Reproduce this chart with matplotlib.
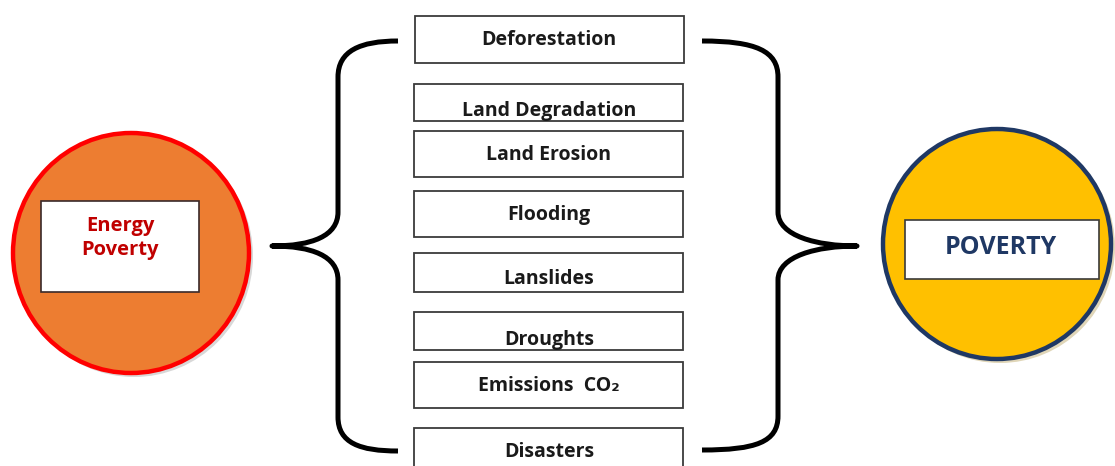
import matplotlib
matplotlib.use("Agg")
import matplotlib.pyplot as plt
from matplotlib.patches import Rectangle, Ellipse, PathPatch
from matplotlib.path import Path

# labels of the middle column, top to bottom
labels = ["Deforestation", "Land Degradation", "Land Erosion", "Flooding",
          "Lanslides", "Droughts", "Emissions  CO\u2082", "Disasters"]
left_label = "Energy\nPoverty"
right_label = "POVERTY"

# box geometry in pixels (top, bottom, text centre)
box_top = [16, 84, 131, 191, 253, 312, 362, 428]
box_bot = [63, 121, 177, 237, 292, 350, 408, 480]
text_y = [40, 111, 155, 215, 279, 340, 386, 452]

W, H = 1115, 466
fig = plt.figure(figsize=(W / 100, H / 100), dpi=100)
ax = fig.add_axes([0, 0, 1, 1])
ax.set_xlim(0, W)
ax.set_ylim(H, 0)
ax.axis("off")

font = ["Open Sans", "DejaVu Sans"]

# middle boxes
for lab, t, b, ty in zip(labels, box_top, box_bot, text_y):
    x0 = 414 if t > 70 else 415
    rect = Rectangle((x0, t), 269, b - t, facecolor="white", edgecolor="#3a3a3a", lw=1.3, zorder=2)
    ax.add_patch(rect)
    txt = ax.text(549, ty, lab, ha="center", va="center", fontsize=14, fontweight="bold",
                  family=font, color="#1a1a1a", zorder=3)
    txt.set_clip_path(rect)

# left circle
ax.add_patch(Ellipse((134, 256), 238, 242, facecolor="#d8d8d8", edgecolor="none", zorder=1))
ax.add_patch(Ellipse((131, 253), 236, 240, facecolor="#ED7D31", edgecolor="#FF0000", lw=3.2, zorder=2))
ax.add_patch(Rectangle((41, 201), 158, 91, facecolor="white", edgecolor="#3a2a2a", lw=1.2, zorder=3))
ax.text(120, 238, left_label, ha="center", va="center", fontsize=14.5, fontweight="bold",
        family=font, color="#C00000", linespacing=1.3, zorder=4)

# right circle
ax.add_patch(Ellipse((1000, 247), 230, 232, facecolor="#e0d6b8", edgecolor="none", zorder=1))
ax.add_patch(Ellipse((997, 244), 228, 230, facecolor="#FFC000", edgecolor="#1F3864", lw=3.2, zorder=2))
ax.add_patch(Rectangle((905, 220), 194, 59, facecolor="white", edgecolor="#3a3a3a", lw=1.2, zorder=3))
ax.text(1001, 248, right_label, ha="center", va="center", fontsize=18, fontweight="bold",
        family=font, color="#1F3864", zorder=4)

# braces
def brace(arm, vert, point, top, bot, mid):
    d = 1 if point > vert else -1
    verts = [(arm, top), (vert - d * 22, top), (vert, top + 10), (vert, top + 36),
             (vert, mid - 34),
             (vert, mid - 10), (point - d * 40, mid), (point, mid),
             (point - d * 40, mid), (vert, mid + 10), (vert, mid + 34),
             (vert, bot - 34),
             (vert, bot - 8), (vert - d * 22, bot), (arm, bot)]
    codes = [Path.MOVETO, Path.CURVE4, Path.CURVE4, Path.CURVE4, Path.LINETO,
             Path.CURVE4, Path.CURVE4, Path.CURVE4, Path.CURVE4, Path.CURVE4, Path.CURVE4,
             Path.LINETO, Path.CURVE4, Path.CURVE4, Path.CURVE4]
    p = PathPatch(Path(verts, codes), facecolor="none", edgecolor="black", lw=3.6,
                  capstyle="butt", joinstyle="round", zorder=2)
    ax.add_patch(p)

brace(398, 338, 272, 41, 451, 246)
brace(702, 778, 857, 41, 450, 246)

fig.savefig("out.png", dpi=100)
